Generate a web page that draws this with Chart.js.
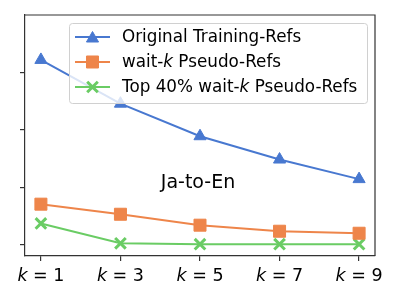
<!DOCTYPE html>
<html>
<head>
<meta charset="utf-8">
<script src="https://cdn.jsdelivr.net/npm/chart.js@4"></script>
<style>
  html, body { margin: 0; padding: 0; background: #fff; }
  #wrap { width: 400px; height: 300px; }
</style>
</head>
<body>
<div id="wrap"><canvas id="c" width="400" height="300"></canvas></div>
<script>
// --- data (y units are arbitrary, axis has no labels) ---
const kValues = [1, 3, 5, 7, 9];
const originalRefs = [64.3, 49.1, 37.8, 29.7, 22.9];
const waitkRefs = [14.2, 10.7, 6.9, 4.8, 4.1];
const top40Refs = [7.5, 0.6, 0.3, 0.3, 0.3];
const yTicks = [0, 20, 40, 60];

const FONT = "'DejaVu Sans', sans-serif";
const AXIS = '#333';

const series = [
  { name: [['Original Training-Refs', '']], data: originalRefs, color: '#4878d0', style: 'triangle', radius: 7, bw: 1 },
  { name: [['wait-', ''], ['k', 'italic '], [' Pseudo-Refs', '']], data: waitkRefs, color: '#ee854a', style: 'rect', radius: 8.5, bw: 1 },
  { name: [['Top 40% wait-', ''], ['k', 'italic '], [' Pseudo-Refs', '']], data: top40Refs, color: '#6acc64', style: 'crossRot', radius: 7.5, bw: 3 }
];

// draws text made of normal / italic pieces
function richText(ctx, parts, x, y, size) {
  parts.forEach(([txt, st]) => {
    ctx.font = st + size + 'px ' + FONT;
    ctx.fillText(txt, x, y);
    x += ctx.measureText(txt).width;
  });
  return x;
}
function richWidth(ctx, parts, size) {
  let w = 0;
  parts.forEach(([txt, st]) => { ctx.font = st + size + 'px ' + FONT; w += ctx.measureText(txt).width; });
  return w;
}

const extras = {
  id: 'extras',
  afterDraw(chart) {
    const ctx = chart.ctx;
    const a = chart.chartArea;
    ctx.save();
    // top and right spines
    ctx.strokeStyle = AXIS;
    ctx.lineWidth = 1.2;
    ctx.beginPath();
    ctx.moveTo(a.left, a.top); ctx.lineTo(a.right, a.top); ctx.lineTo(a.right, a.bottom);
    ctx.stroke();

    // x tick labels: k = n
    const xs = chart.scales.x;
    ctx.fillStyle = '#000';
    ctx.textBaseline = 'alphabetic';
    kValues.forEach(k => {
      const parts = [['k', 'italic '], [' = ' + k, '']];
      const w = richWidth(ctx, parts, 17.5);
      richText(ctx, parts, xs.getPixelForValue(k) - w / 2, 281, 17.5);
    });

    // annotation
    ctx.font = '19px ' + FONT;
    ctx.textAlign = 'center';
    ctx.fillText('Ja-to-En', 198, 188);
    ctx.textAlign = 'left';

    // legend
    const lx = 69, ly = 23, lw = 298, lh = 80;
    ctx.fillStyle = 'rgba(255,255,255,0.8)';
    ctx.strokeStyle = '#d0d0d0';
    ctx.lineWidth = 1;
    ctx.beginPath();
    ctx.roundRect(lx + 0.5, ly + 0.5, lw, lh, 3);
    ctx.fill();
    ctx.stroke();
    series.forEach((s, i) => {
      const y = 37 + i * 25;
      ctx.strokeStyle = s.color;
      ctx.lineWidth = 2;
      ctx.beginPath();
      ctx.moveTo(75, y); ctx.lineTo(110, y);
      ctx.stroke();
      ctx.fillStyle = s.color;
      ctx.lineWidth = s.bw;
      Chart.helpers.drawPoint(ctx, { pointStyle: s.style, radius: s.radius, borderWidth: s.bw, rotation: 0 }, 92.5, s.style === 'triangle' ? y + 1.5 : y);
      ctx.fillStyle = '#000';
      ctx.textBaseline = 'middle';
      richText(ctx, s.name, 122, y + 1, 16.8);
    });
    ctx.restore();
  }
};

new Chart(document.getElementById('c'), {
  type: 'line',
  data: {
    datasets: series.map(s => ({
      label: s.name.map(p => p[0]).join(''),
      data: kValues.map((k, i) => ({ x: k, y: s.data[i] })),
      borderColor: s.color,
      backgroundColor: s.color,
      borderWidth: 2,
      pointStyle: s.style,
      pointRadius: s.radius,
      pointBorderWidth: s.bw,
      pointBorderColor: s.color,
      pointBackgroundColor: s.color,
      tension: 0,
      clip: false
    }))
  },
  options: {
    responsive: false,
    animation: false,
    events: [],
    layout: { padding: { top: 15, right: 25, left: 0, bottom: 0 } },
    plugins: { legend: { display: false }, tooltip: { enabled: false } },
    scales: {
      x: {
        type: 'linear',
        min: 0.6, max: 9.4,
        afterBuildTicks: s => { s.ticks = kValues.map(v => ({ value: v })); },
        afterFit: s => { s.height = 44; },
        ticks: { display: false },
        grid: { drawOnChartArea: false, tickLength: 5, color: AXIS, lineWidth: 1.2 },
        border: { display: true, color: AXIS, width: 1.2 }
      },
      y: {
        min: -3.8, max: 79.9,
        afterBuildTicks: s => { s.ticks = yTicks.map(v => ({ value: v })); },
        afterFit: s => { s.width = 25; },
        ticks: { display: false },
        grid: { drawOnChartArea: false, tickLength: 5, color: AXIS, lineWidth: 1.2 },
        border: { display: true, color: AXIS, width: 1.2 }
      }
    }
  },
  plugins: [extras]
});
</script>
</body>
</html>
